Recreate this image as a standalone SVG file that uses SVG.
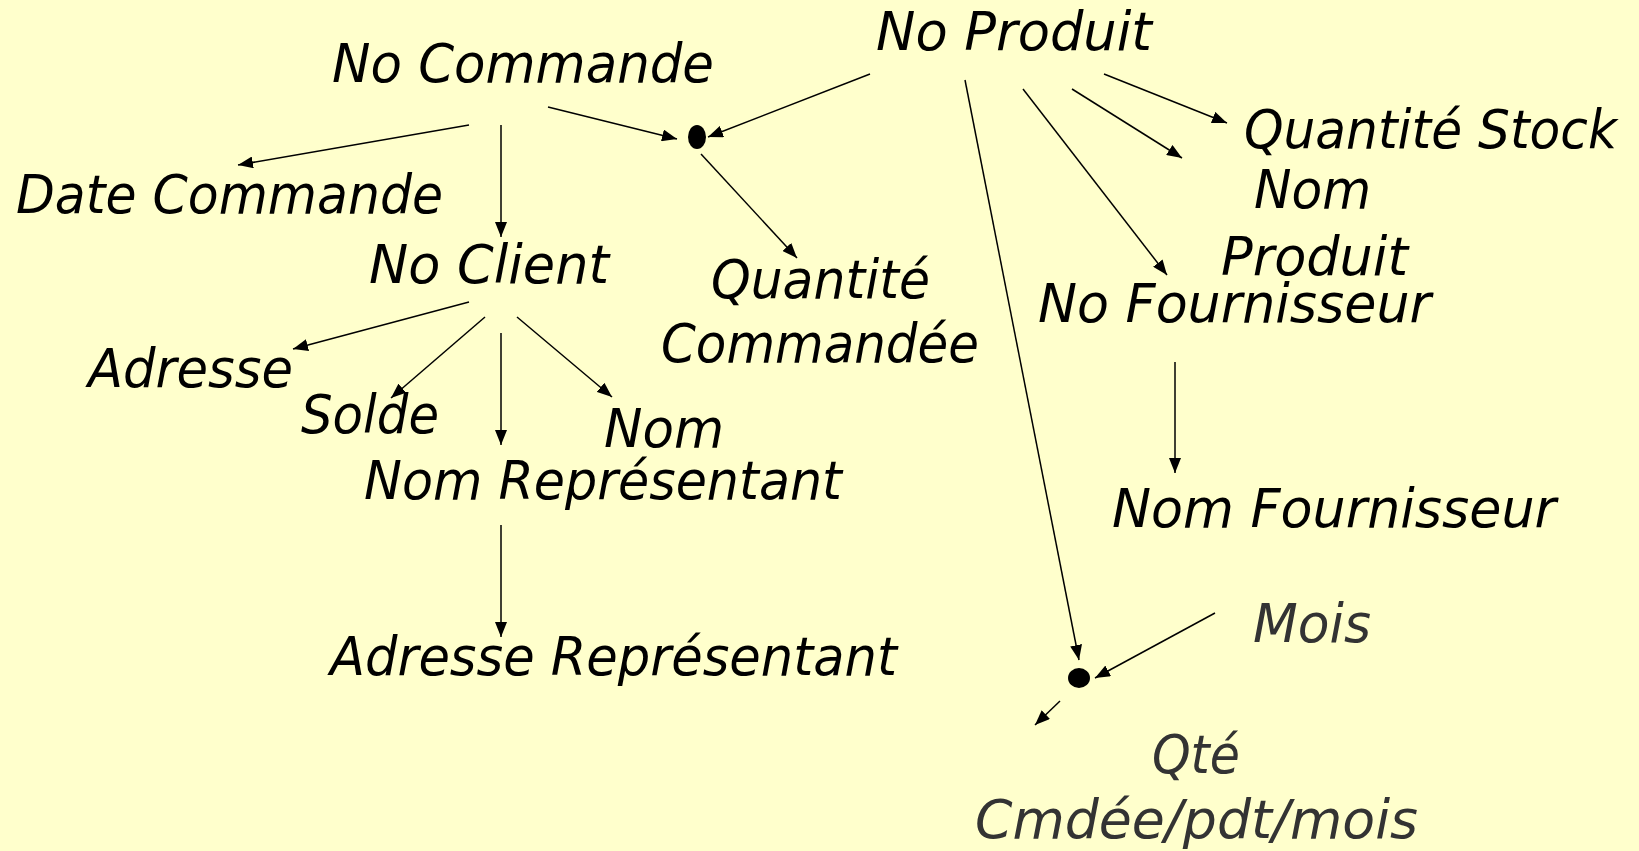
<svg xmlns="http://www.w3.org/2000/svg" width="1639" height="851" viewBox="0 0 1639 851">
<defs>
<marker id="arr" viewBox="0 0 15 12" refX="15" refY="6" markerWidth="15" markerHeight="12" markerUnits="userSpaceOnUse" orient="auto">
<path d="M0,0 L15,6 L0,12 Z" fill="#000"/>
</marker>
<style>
.t{font-family:"DejaVu Sans Condensed","DejaVu Sans",sans-serif;font-style:oblique;font-size:53px;fill:#000}
.g{fill:#333}
.c line{stroke:#000;stroke-width:1.5;marker-end:url(#arr)}
</style>
</defs>
<rect width="1639" height="851" fill="#FFFFCC"/>
<g id="connectors" class="c">
<line x1="469" y1="125" x2="238" y2="165"/>
<line x1="501" y1="125" x2="501" y2="237"/>
<line x1="548" y1="107" x2="677" y2="139"/>
<line x1="870" y1="74" x2="708" y2="137"/>
<line x1="701" y1="154" x2="797" y2="258"/>
<line x1="469" y1="302" x2="293" y2="349"/>
<line x1="485" y1="317" x2="391" y2="398"/>
<line x1="501" y1="333" x2="501" y2="445"/>
<line x1="517" y1="317" x2="612" y2="397"/>
<line x1="501" y1="525" x2="501" y2="637"/>
<line x1="965" y1="80" x2="1079" y2="660"/>
<line x1="1023" y1="89" x2="1167" y2="275"/>
<line x1="1072" y1="89" x2="1182" y2="158"/>
<line x1="1104" y1="74" x2="1227" y2="123"/>
<line x1="1175" y1="362" x2="1175" y2="473"/>
<line x1="1215" y1="613" x2="1095" y2="678"/>
<line x1="1060" y1="701" x2="1035" y2="725"/>
</g>
<g id="dot1"><ellipse cx="697" cy="137" rx="9" ry="12" fill="#000"/></g>
<g id="dot2"><ellipse cx="1079" cy="678" rx="11" ry="10" fill="#000"/></g>
<g id="noCommande"><text class="t" x="332" y="82" textLength="382" lengthAdjust="spacingAndGlyphs">No Commande</text></g>
<g id="noProduit"><text class="t" x="876" y="50" textLength="276" lengthAdjust="spacingAndGlyphs">No Produit</text></g>
<g id="dateCommande"><text class="t" x="16" y="213" textLength="427" lengthAdjust="spacingAndGlyphs">Date Commande</text></g>
<g id="noClient"><text class="t" x="369" y="283" textLength="240" lengthAdjust="spacingAndGlyphs">No Client</text></g>
<g id="quantiteCommandee">
<text class="t" x="711" y="298" textLength="219" lengthAdjust="spacingAndGlyphs">Quantité</text>
<text class="t" x="661" y="362" textLength="318" lengthAdjust="spacingAndGlyphs">Commandée</text>
</g>
<g id="quantiteStock"><text class="t" x="1244" y="148" textLength="373" lengthAdjust="spacingAndGlyphs">Quantité Stock</text></g>
<g id="nomProduit">
<text class="t" x="1254" y="208" textLength="117" lengthAdjust="spacingAndGlyphs">Nom</text>
<text class="t" x="1221" y="275" textLength="187" lengthAdjust="spacingAndGlyphs">Produit</text>
</g>
<g id="noFournisseur"><text class="t" x="1038" y="322" textLength="393" lengthAdjust="spacingAndGlyphs">No Fournisseur</text></g>
<g id="adresse"><text class="t" x="88" y="387" textLength="205" lengthAdjust="spacingAndGlyphs">Adresse</text></g>
<g id="solde"><text class="t" x="301" y="433" textLength="138" lengthAdjust="spacingAndGlyphs">Solde</text></g>
<g id="nom"><text class="t" x="604" y="447" textLength="120" lengthAdjust="spacingAndGlyphs">Nom</text></g>
<g id="nomRepresentant"><text class="t" x="364" y="499" textLength="478" lengthAdjust="spacingAndGlyphs">Nom Représentant</text></g>
<g id="adresseRepresentant"><text class="t" x="330" y="675" textLength="567" lengthAdjust="spacingAndGlyphs">Adresse Représentant</text></g>
<g id="nomFournisseur"><text class="t" x="1112" y="527" textLength="444" lengthAdjust="spacingAndGlyphs">Nom Fournisseur</text></g>
<g id="mois"><text class="t g" x="1253" y="642" textLength="118" lengthAdjust="spacingAndGlyphs">Mois</text></g>
<g id="qteCmdee">
<text class="t g" x="1152" y="773" textLength="88" lengthAdjust="spacingAndGlyphs">Qté</text>
<text class="t g" x="975" y="838" textLength="443" lengthAdjust="spacingAndGlyphs">Cmdée/pdt/mois</text>
</g>
</svg>
